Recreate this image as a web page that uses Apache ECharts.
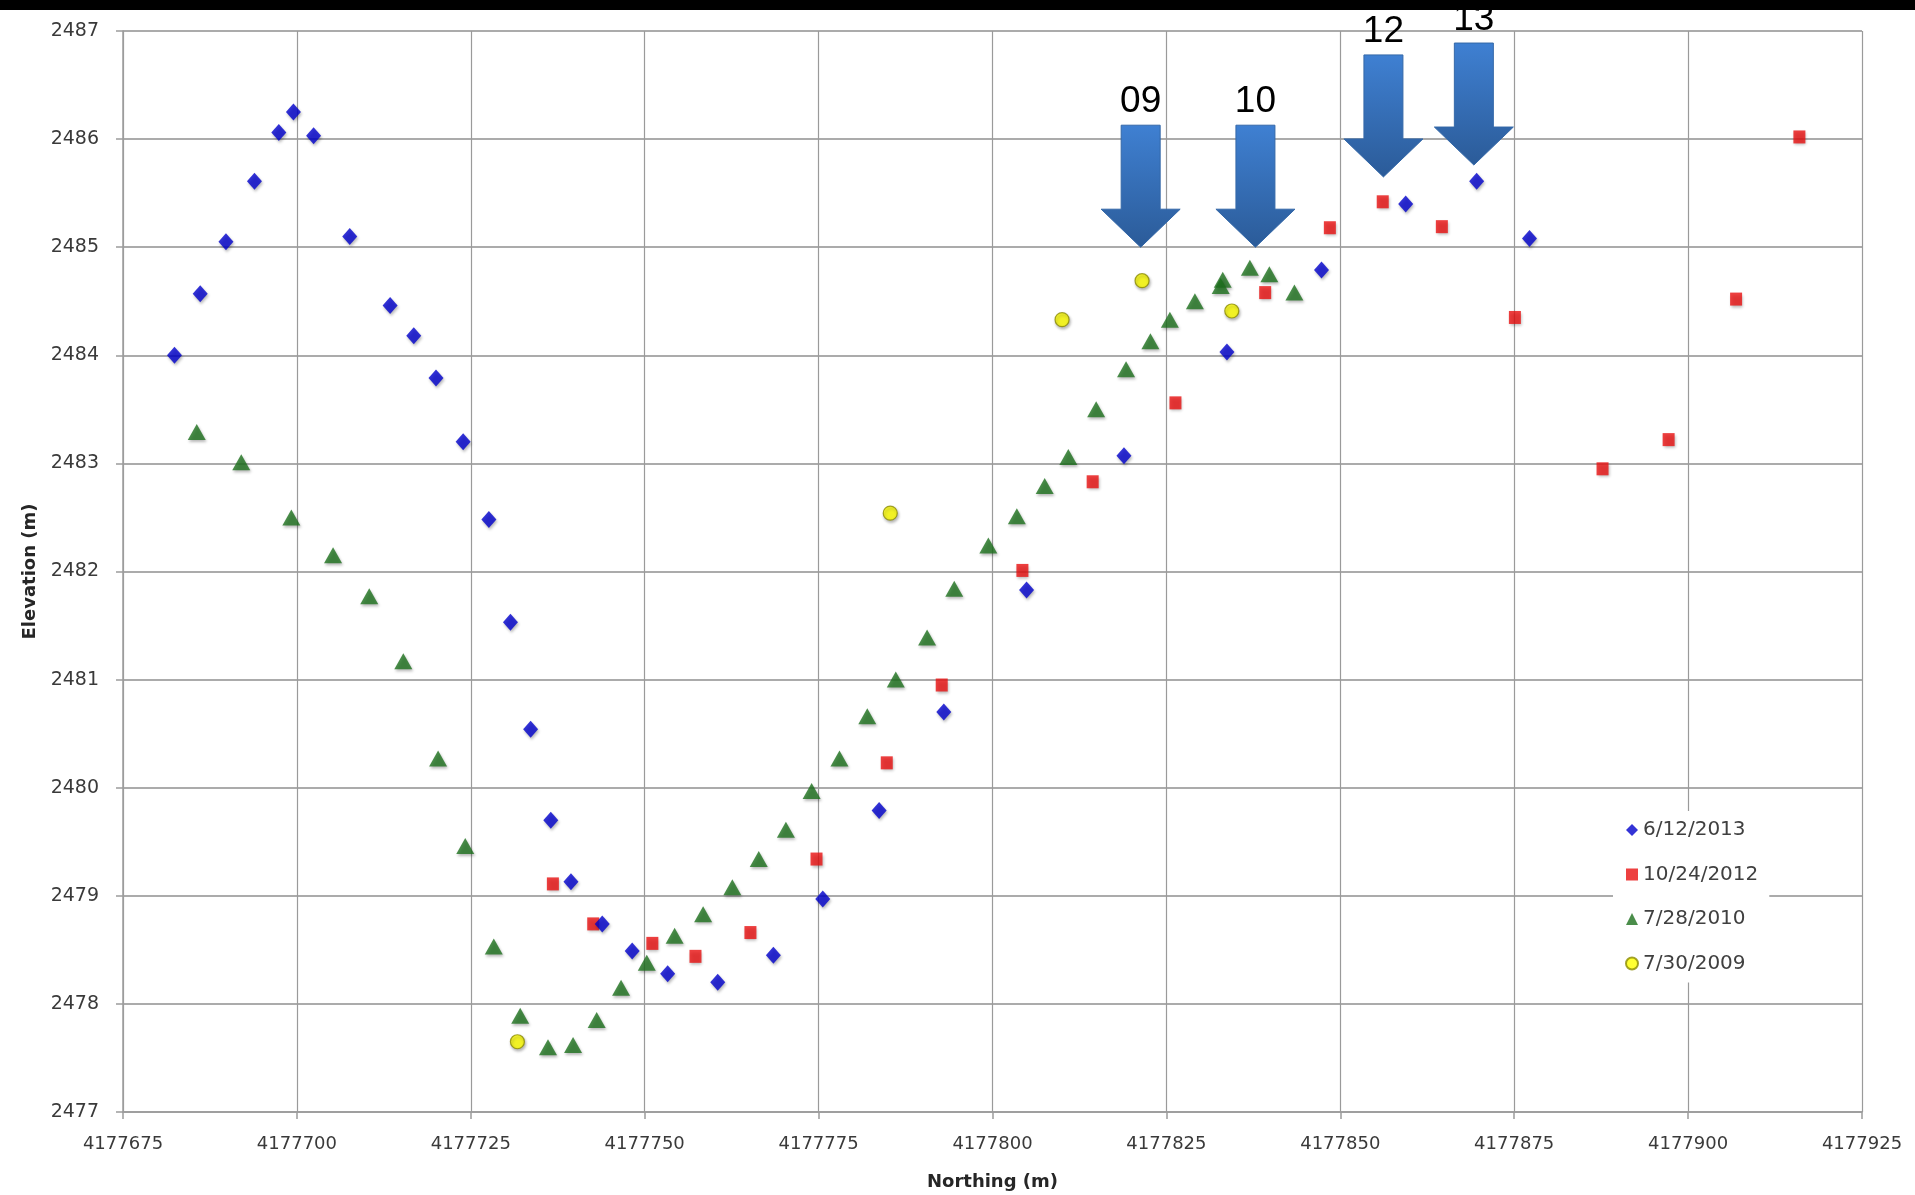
<!DOCTYPE html>
<html>
<head>
<meta charset="utf-8">
<title>Elevation profile by survey date</title>
<script src="https://cdn.jsdelivr.net/npm/echarts@6/dist/echarts.min.js"></script>
<style>
  html, body { margin: 0; padding: 0; background: #fff; }
  #chart { width: 1915px; height: 1195px; }
</style>
</head>
<body>
<div id="chart"></div>
<script>
// Survey dates (legend order)
const seriesNames = ['6/12/2013', '10/24/2012', '7/28/2010', '7/30/2009'];

// Northing (m) / Elevation (m) per survey
const northing2013 = [4177682.4, 4177686.1, 4177689.8, 4177693.9, 4177697.4, 4177699.5, 4177702.4, 4177707.6,
  4177713.4, 4177716.8, 4177720.0, 4177723.9, 4177727.6, 4177730.7, 4177733.6, 4177736.5, 4177739.4,
  4177743.9, 4177748.2, 4177753.3, 4177760.5, 4177768.5, 4177775.6, 4177783.7, 4177793.0, 4177804.9,
  4177818.9, 4177833.7, 4177847.3, 4177859.4, 4177869.6, 4177877.2];
const elev2013 = [2484.00, 2484.57, 2485.05, 2485.61, 2486.06, 2486.25, 2486.03, 2485.10,
  2484.46, 2484.18, 2483.79, 2483.20, 2482.48, 2481.53, 2480.54, 2479.70, 2479.13,
  2478.74, 2478.49, 2478.28, 2478.20, 2478.45, 2478.97, 2479.79, 2480.70, 2481.83,
  2483.07, 2484.03, 2484.79, 2485.40, 2485.61, 2485.08];

const northing2012 = [4177736.8, 4177742.6, 4177751.1, 4177757.3, 4177765.2, 4177774.7, 4177784.8, 4177792.7,
  4177804.3, 4177814.4, 4177826.3, 4177839.2, 4177848.5, 4177856.1, 4177864.6, 4177875.1, 4177887.7,
  4177897.2, 4177906.9, 4177916.0];
const elev2012 = [2479.11, 2478.74, 2478.56, 2478.44, 2478.66, 2479.34, 2480.23, 2480.95,
  2482.01, 2482.83, 2483.56, 2484.58, 2485.18, 2485.42, 2485.19, 2484.35, 2482.95,
  2483.22, 2484.52, 2486.02];

const northing2010 = [4177685.6, 4177692.0, 4177699.2, 4177705.2, 4177710.4, 4177715.3, 4177720.3, 4177724.2,
  4177728.3, 4177732.1, 4177736.1, 4177739.7, 4177743.1, 4177746.6, 4177750.3, 4177754.3, 4177758.4,
  4177762.6, 4177766.4, 4177770.3, 4177774.0, 4177778.0, 4177782.0, 4177786.1, 4177790.6, 4177794.5,
  4177799.4, 4177803.5, 4177807.5, 4177810.9, 4177814.9, 4177819.2, 4177822.7, 4177825.5, 4177829.1,
  4177833.1, 4177832.8, 4177837.0, 4177839.8, 4177843.4];
const elev2010 = [2483.29, 2483.01, 2482.50, 2482.15, 2481.77, 2481.17, 2480.27, 2479.46,
  2478.53, 2477.89, 2477.60, 2477.62, 2477.85, 2478.15, 2478.38, 2478.63, 2478.83,
  2479.08, 2479.34, 2479.61, 2479.97, 2480.27, 2480.66, 2481.00, 2481.39, 2481.84,
  2482.24, 2482.51, 2482.79, 2483.06, 2483.50, 2483.87, 2484.13, 2484.33, 2484.50,
  2484.70, 2484.64, 2484.81, 2484.75, 2484.58];

const northing2009 = [4177731.7, 4177785.3, 4177810.0, 4177821.5, 4177834.4];
const elev2009 = [2477.65, 2482.54, 2484.33, 2484.69, 2484.41];

// Annotation arrows: year label, northing of the arrow, elevation at the arrow tip
const arrowLabels = ['09', '10', '12', '13'];
const arrowNorthing = [4177821.3, 4177837.8, 4177856.2, 4177869.2];
const arrowTipElev = [2485.0, 2485.0, 2485.65, 2485.76];

// Axis ranges
const xMin = 4177675, xMax = 4177925, xStep = 25;
const yMin = 2477, yMax = 2487, yStep = 1;

const pairs = (xs, ys) => xs.map((x, i) => [x, ys[i]]);

const TICK_FONT = '"DejaVu Sans", "Liberation Sans", sans-serif';
const shadow = { shadowBlur: 3, shadowColor: 'rgba(0,0,0,0.35)', shadowOffsetX: 1, shadowOffsetY: 2 };

const chart = echarts.init(document.getElementById('chart'), null, { renderer: 'canvas' });

const arrowFill = new echarts.graphic.LinearGradient(0, 0, 0, 1, [
  { offset: 0, color: '#3f80d2' },
  { offset: 1, color: '#2b5b98' }
]);

chart.setOption({
  backgroundColor: '#ffffff',
  animation: false,
  grid: { left: 123, top: 31, right: 53, bottom: 83, containLabel: false, outerBoundsMode: 'none' },
  xAxis: {
    type: 'value', min: xMin, max: xMax, interval: xStep,
    name: 'Northing (m)', nameLocation: 'middle', nameGap: 61,
    nameTextStyle: { fontFamily: TICK_FONT, fontWeight: 'bold', fontSize: 18, color: '#262626' },
    axisLine: { show: true, lineStyle: { color: '#9c9c9c', width: 1.5 } },
    axisTick: { show: true, length: 7, lineStyle: { color: '#9c9c9c', width: 1.5 } },
    axisLabel: { margin: 23, fontFamily: TICK_FONT, fontSize: 18, color: '#3a3a3a', formatter: v => String(v) },
    splitLine: { show: true, lineStyle: { color: '#9a9a9a', width: 1.2 } }
  },
  yAxis: {
    type: 'value', min: yMin, max: yMax, interval: yStep,
    name: 'Elevation (m)', nameLocation: 'middle', nameGap: 81, nameRotate: 90,
    nameTextStyle: { fontFamily: TICK_FONT, fontWeight: 'bold', fontSize: 18, color: '#262626' },
    axisLine: { show: true, lineStyle: { color: '#9c9c9c', width: 1.5 } },
    axisTick: { show: true, length: 7, lineStyle: { color: '#9c9c9c', width: 1.5 } },
    axisLabel: { margin: 24, fontFamily: TICK_FONT, fontSize: 19, color: '#3a3a3a', formatter: v => String(v) },
    splitLine: { show: true, lineStyle: { color: '#ababab', width: 1.8 } }
  },
  legend: {
    orient: 'vertical', left: 1613, top: 811,
    padding: [8, 11, 8, 12], backgroundColor: '#ffffff',
    itemWidth: 12, itemHeight: 12, itemGap: 22.5,
    textStyle: { fontFamily: TICK_FONT, fontSize: 20, color: '#404040', lineHeight: 22 },
    data: seriesNames
  },
  series: [
    {
      name: seriesNames[3], type: 'scatter', symbol: 'circle', symbolSize: 14,
      itemStyle: Object.assign({ color: '#ffff00', borderColor: '#8b8b00', borderWidth: 1.2 }, shadow),
      data: pairs(northing2009, elev2009), z: 2
    },
    {
      name: seriesNames[2], type: 'scatter', symbol: 'triangle', symbolSize: [18, 16],
      itemStyle: Object.assign({ color: '#1d701d' }, shadow),
      data: pairs(northing2010, elev2010), z: 3
    },
    {
      name: seriesNames[1], type: 'scatter', symbol: 'rect', symbolSize: [12, 13],
      itemStyle: Object.assign({ color: '#e81010' }, shadow),
      data: pairs(northing2012, elev2012), z: 4
    },
    {
      name: seriesNames[0], type: 'scatter', symbol: 'diamond', symbolSize: [15, 17],
      itemStyle: Object.assign({ color: '#0000cc' }, shadow),
      data: pairs(northing2013, elev2013), z: 5
    },
    {
      name: 'arrows', type: 'custom', silent: true, clip: false, z: 10,
      data: pairs(arrowNorthing, arrowTipElev),
      renderItem: function (params, api) {
        const p = api.coord([api.value(0), api.value(1)]);
        const x = p[0], y = p[1];
        const headH = 38, shaftH = 84, shaftW = 19.5, headW = 39.5;
        const top = y - headH - shaftH;
        return {
          type: 'group',
          children: [
            {
              type: 'polygon',
              shape: {
                points: [
                  [x, y], [x - headW, y - headH], [x - shaftW, y - headH], [x - shaftW, top],
                  [x + shaftW, top], [x + shaftW, y - headH], [x + headW, y - headH]
                ]
              },
              style: { fill: arrowFill, stroke: '#3468a8', lineWidth: 1 }
            },
            {
              type: 'text',
              style: {
                text: arrowLabels[params.dataIndex],
                x: x, y: top - 23,
                font: '37px "Liberation Sans", Arial, sans-serif',
                fill: '#000000', align: 'center', verticalAlign: 'middle',
                textAlign: 'center', textVerticalAlign: 'middle'
              }
            }
          ]
        };
      }
    }
  ],
  graphic: [
    { type: 'rect', left: 0, top: 0, z: 100, shape: { width: 1915, height: 10 }, style: { fill: '#000000' } }
  ]
});
</script>
</body>
</html>
